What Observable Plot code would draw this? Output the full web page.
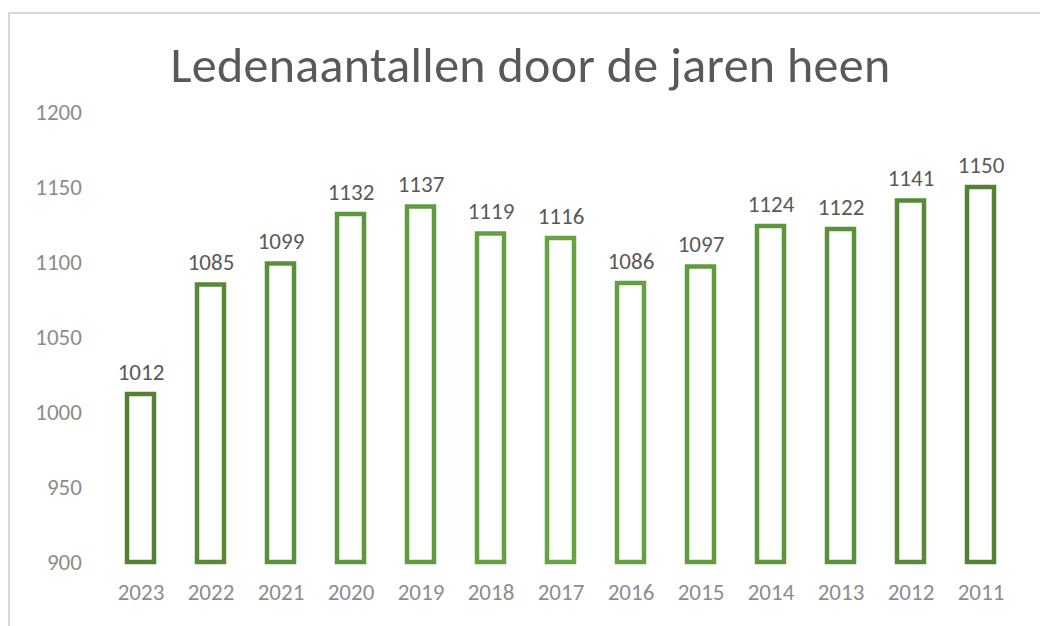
<!DOCTYPE html>
<html>
<head>
<meta charset="utf-8">
<script src="https://cdn.jsdelivr.net/npm/d3@7"></script>
<script src="https://cdn.jsdelivr.net/npm/@observablehq/plot@0.6"></script>
<style>
  html, body { margin: 0; padding: 0; background: #fff; width: 1040px; height: 626px; overflow: hidden; }
  #frame { position: absolute; left: 8px; top: 12px; width: 1100px; height: 700px;
           border-top: 2px solid #d9d9d9; border-left: 2px solid #d9d9d9; }
  #title { position: absolute; left: 0; top: 34px; width: 1061px; text-align: center;
           font-family: Carlito, Lato, sans-serif; font-size: 50px; font-weight: 400; color: #595959; letter-spacing: 0.3px; }
  #chart { position: absolute; left: 0; top: 100px; }
</style>
</head>
<body>
<div id="frame"></div>
<div id="title">Ledenaantallen door de jaren heen</div>
<div id="chart"></div>
<script>
const years = ["2023","2022","2021","2020","2019","2018","2017","2016","2015","2014","2013","2012","2011"];
const members = [1012, 1085, 1099, 1132, 1137, 1119, 1116, 1086, 1097, 1124, 1122, 1141, 1150];
const yTicks = [900, 950, 1000, 1050, 1100, 1150, 1200];
const barColors = ["#548235","#578939","#5a8f3b","#5e963d","#619b3f","#64a041","#66a342","#64a041","#619b3f","#5e963d","#5a8f3b","#578939","#548235"];

const data = years.map((y, i) => ({year: y, value: members[i]}));
const font = "Carlito, Lato, sans-serif";

const chart = Plot.plot({
  width: 1040,
  height: 526,
  marginLeft: 101.4,
  marginRight: 20.8,
  marginTop: 12,
  marginBottom: 64,
  style: {fontFamily: font, fontSize: "23px", background: "transparent", overflow: "visible"},
  x: {domain: years, paddingInner: 0.61, paddingOuter: 0.305, label: null},
  y: {domain: [900, 1200], label: null},
  color: {domain: years, range: barColors},
  marks: [
    Plot.axisY({ticks: yTicks, tickFormat: "d", tickSize: 0, tickPadding: 20, label: null, fill: "#8c8c8c", fontSize: 23}),
    Plot.axisX({tickSize: 0, tickPadding: 21, label: null, fill: "#8c8c8c", fontSize: 23}),
    Plot.barY(data, {x: "year", y1: 900, y2: "value", fill: "white", stroke: d => d.year, strokeWidth: 4.5}),
    Plot.text(data, {x: "year", y: "value", text: d => String(d.value), lineAnchor: "bottom", dy: -15, fill: "#595959", fontSize: 23})
  ]
});
document.getElementById("chart").appendChild(chart);
</script>
</body>
</html>
